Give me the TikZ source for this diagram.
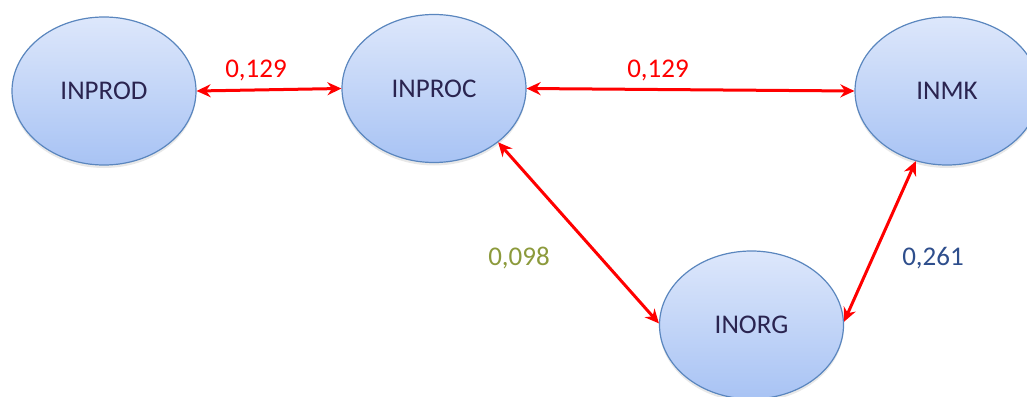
\documentclass[tikz,border=0pt]{standalone}
\usepackage{fontspec}
\setmainfont{Carlito}
\usetikzlibrary{shapes.geometric,arrows.meta,shadows}
\definecolor{nodetext}{HTML}{2A2450}
\definecolor{nodeborder}{HTML}{5A86BE}
\definecolor{topfill}{HTML}{DDE7FB}
\definecolor{botfill}{HTML}{A8C3F4}
\definecolor{olivetext}{HTML}{8C9A3C}
\definecolor{bluetext}{HTML}{2E4E8C}
\tikzset{
  latent/.style={ellipse, draw=nodeborder, line width=1.2pt, top color=topfill, bottom color=botfill,
    minimum width=184pt, minimum height=148pt, inner sep=0pt, text=nodetext,
    font=\fontsize{27}{30}\selectfont,
    drop shadow={opacity=0.18, shadow xshift=0pt, shadow yshift=-3pt}},
  link/.style={draw=red, line width=3pt, {Stealth[length=14pt,width=13pt]}-{Stealth[length=14pt,width=13pt]}},
  coef/.style={font=\fontsize{27}{30}\selectfont, inner sep=0pt}
}
\begin{document}
\begin{tikzpicture}[x=1pt,y=-1pt]
\useasboundingbox (0,0) rectangle (1027,396);
\node[latent] (inprod) at (104,91) {INPROD};
\node[latent] (inproc) at (434,88.5) {INPROC};
\node[latent] (inmk) at (947,91) {INMK};
\node[latent] (inorg) at (751.5,325) {INORG};
\draw[link] (inprod.east) -- (inproc.west);
\draw[link] (inproc.east) -- (inmk.west);
\draw[link] (inproc.-40) -- (inorg.179);
\draw[link] (inorg.2) -- (inmk.-114);
\node[coef, text=red] (c1) at (256,70) {0,129};
\node[coef, text=red] (c2) at (658,70) {0,129};
\node[coef, text=olivetext] (c3) at (519,258) {0,098};
\node[coef, text=bluetext] (c4) at (933,258) {0,261};
\end{tikzpicture}
\end{document}
